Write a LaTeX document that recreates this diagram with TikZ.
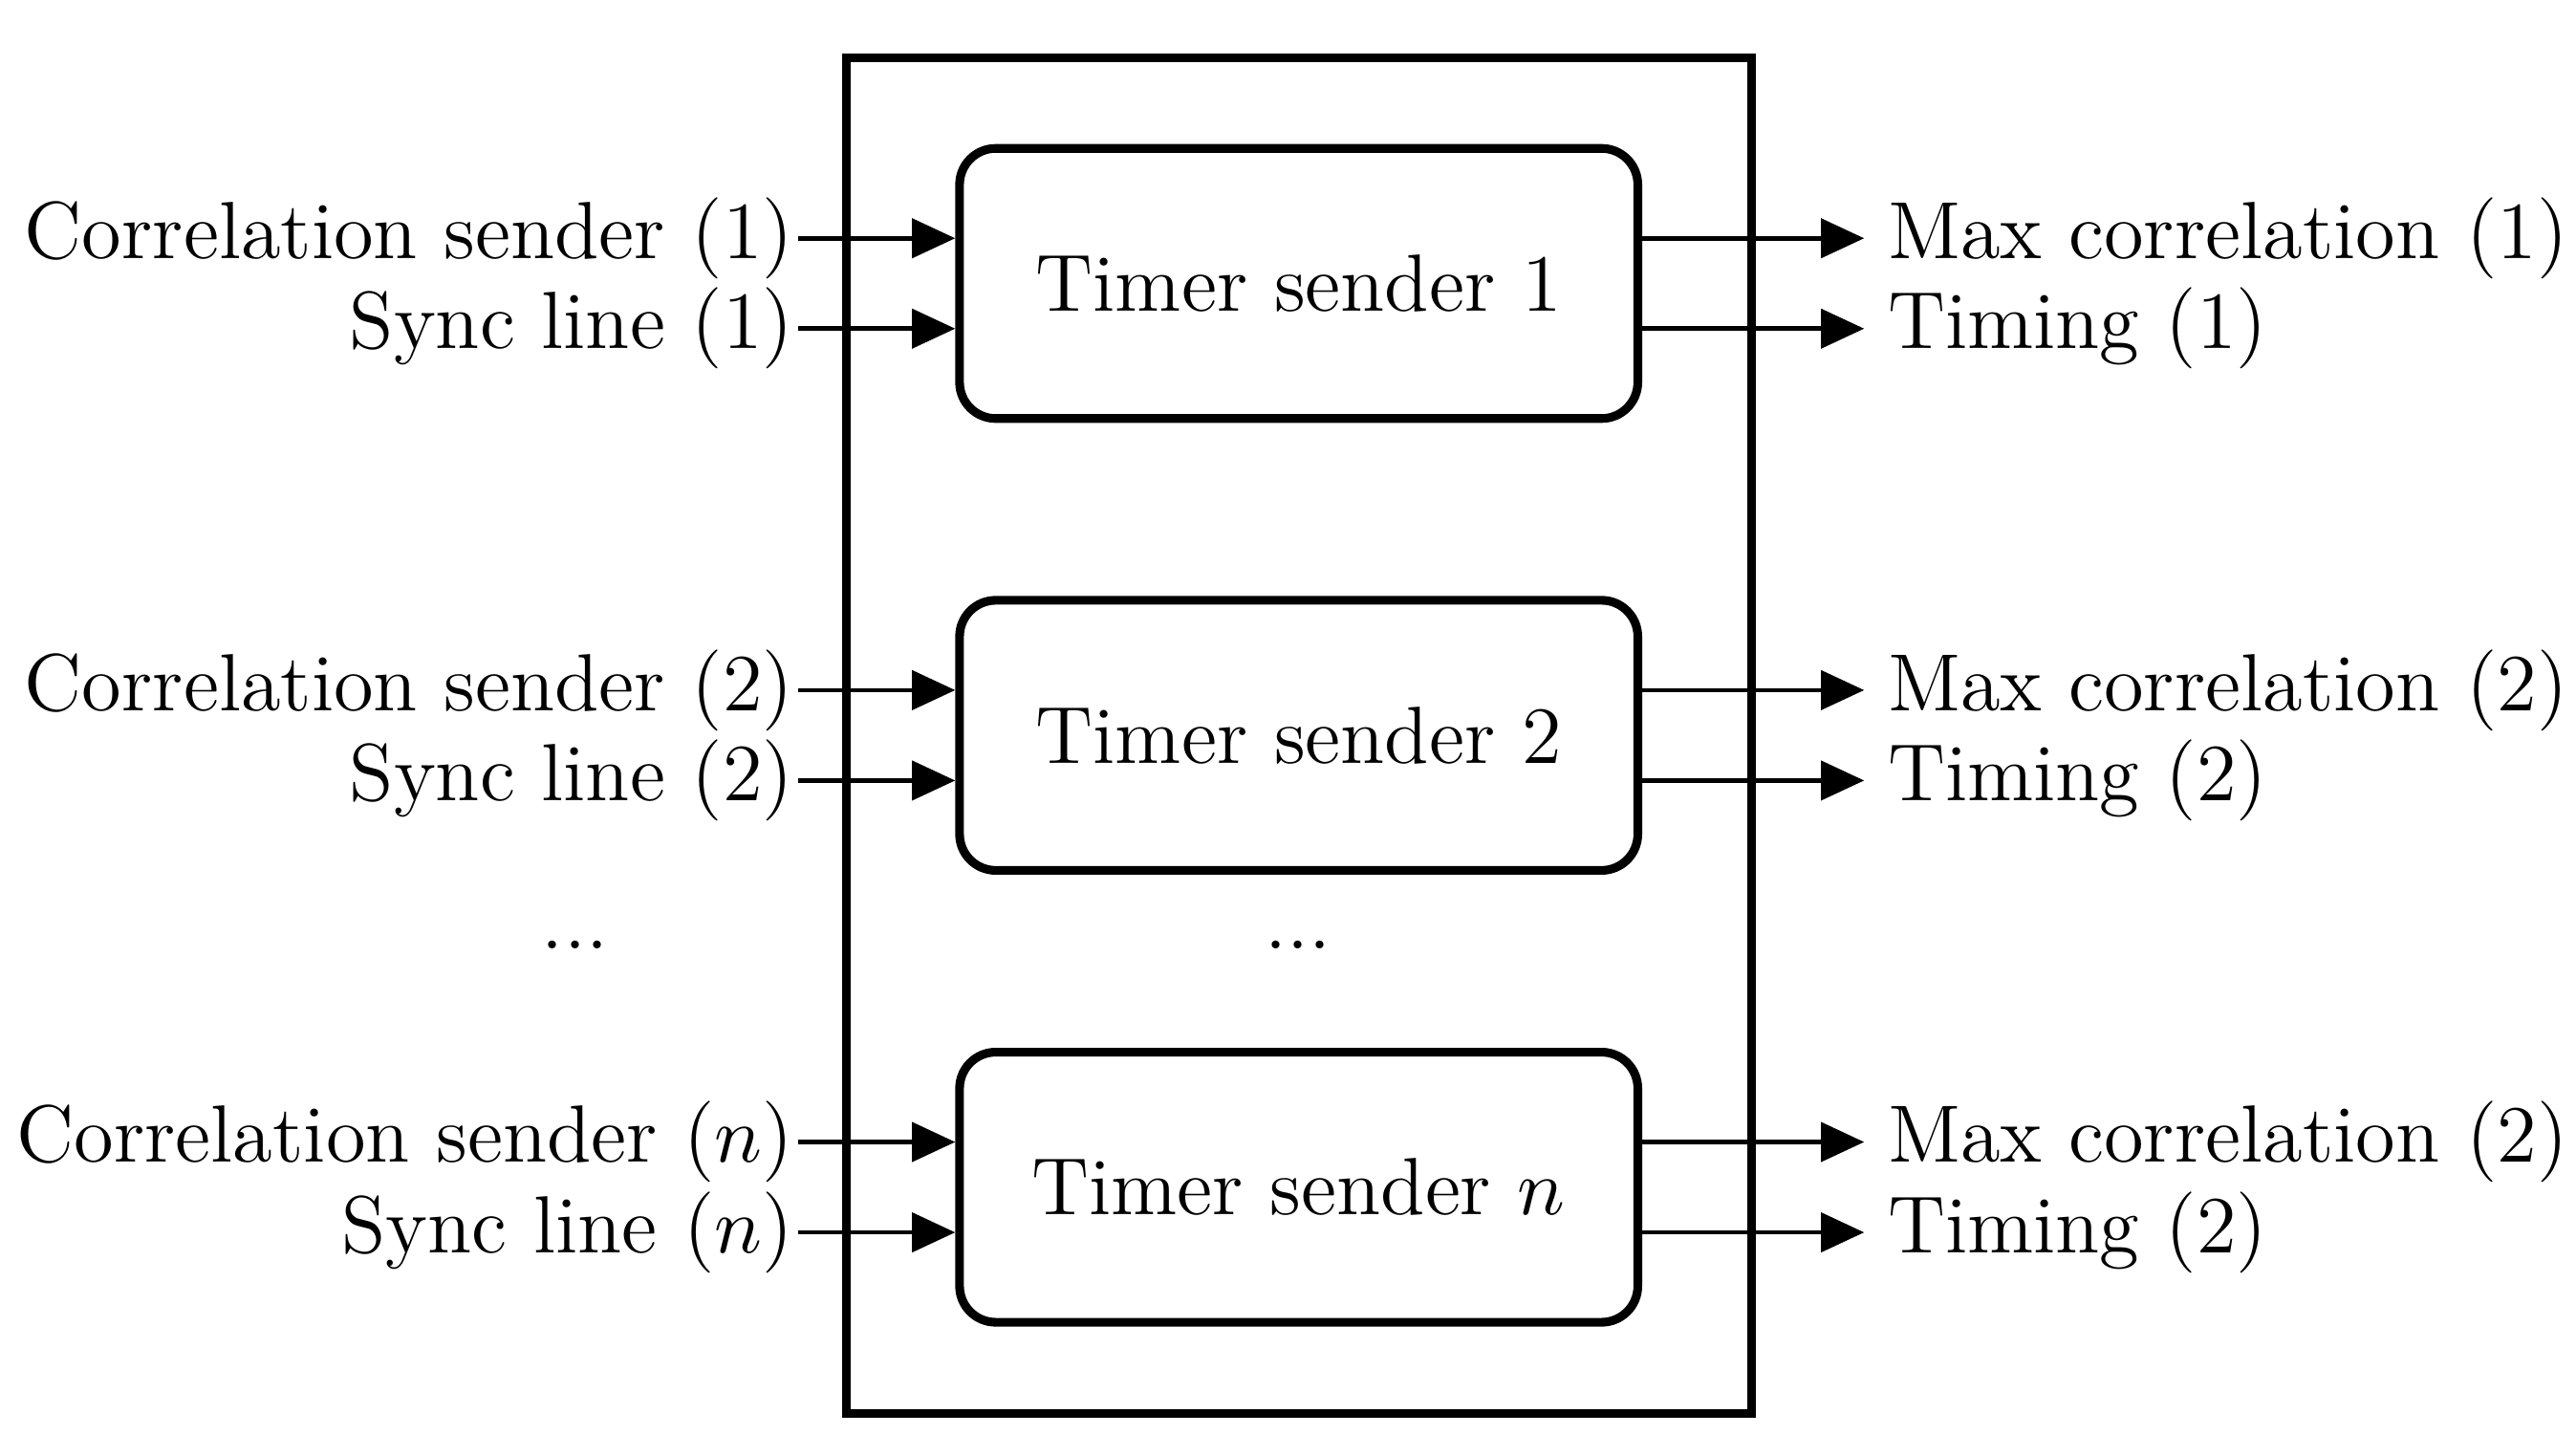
\documentclass[tikz,border=0pt]{standalone}
\usepackage{amsmath}
\usetikzlibrary{arrows.meta}
\begin{document}
\begin{tikzpicture}[x=0.0797mm, y=-0.0797mm, thick]
\tikzstyle{block} = [rectangle, draw, line width=1.2pt, rounded corners=5pt, text centered, minimum width=32.9mm, minimum height=13.1mm, font=\fontsize{11.2}{13}\selectfont]
\tikzstyle{lab} = [inner sep=0.3pt, font=\fontsize{11.2}{13}\selectfont]
\tikzstyle{sig} = [-{Triangle[length=2.1mm, width=1.9mm]}, line width=0.6pt]
\useasboundingbox (0,0) rectangle (1568,873);

\draw[line width=1.2pt] (515,35) rectangle (1066,860);

\node[block] (t1) at (790.5,172.5) {Timer sender 1};
\node[block] (t2) at (790.5,447.5) {Timer sender 2};
\node[block] (tn) at (790.5,722.5) {Timer sender $n$};

% inputs
\node[lab, anchor=east] (c1) at (486,145) {Correlation sender (1)};
\node[lab, anchor=east] (s1) at (486,200) {Sync line (1)};
\node[lab, anchor=east] (c2) at (486,420) {Correlation sender (2)};
\node[lab, anchor=east] (s2) at (486,475) {Sync line (2)};
\node[lab, anchor=east] (cn) at (486,695) {Correlation sender ($n$)};
\node[lab, anchor=east] (sn) at (486,750) {Sync line ($n$)};

% outputs
\node[lab, anchor=west] (m1) at (1146,145) {Max correlation (1)};
\node[lab, anchor=west] (g1) at (1146,200) {Timing (1)};
\node[lab, anchor=west] (m2) at (1146,420) {Max correlation (2)};
\node[lab, anchor=west] (g2) at (1146,475) {Timing (2)};
\node[lab, anchor=west] (mn) at (1146,695) {Max correlation (2)};
\node[lab, anchor=west] (gn) at (1146,750) {Timing (2)};

\node[lab] (dl) at (350,575) {...};
\node[lab] (dm) at (790,575) {...};

\draw[sig] (c1.east) -- (c1.east -| t1.west);
\draw[sig] (s1.east) -- (s1.east -| t1.west);
\draw[sig] (c2.east) -- (c2.east -| t2.west);
\draw[sig] (s2.east) -- (s2.east -| t2.west);
\draw[sig] (cn.east) -- (cn.east -| tn.west);
\draw[sig] (sn.east) -- (sn.east -| tn.west);

\draw[sig] (m1.west -| t1.east) -- ([xshift=-0.9mm]m1.west);
\draw[sig] (g1.west -| t1.east) -- ([xshift=-0.9mm]g1.west);
\draw[sig] (m2.west -| t2.east) -- ([xshift=-0.9mm]m2.west);
\draw[sig] (g2.west -| t2.east) -- ([xshift=-0.9mm]g2.west);
\draw[sig] (mn.west -| tn.east) -- ([xshift=-0.9mm]mn.west);
\draw[sig] (gn.west -| tn.east) -- ([xshift=-0.9mm]gn.west);

\end{tikzpicture}
\end{document}
